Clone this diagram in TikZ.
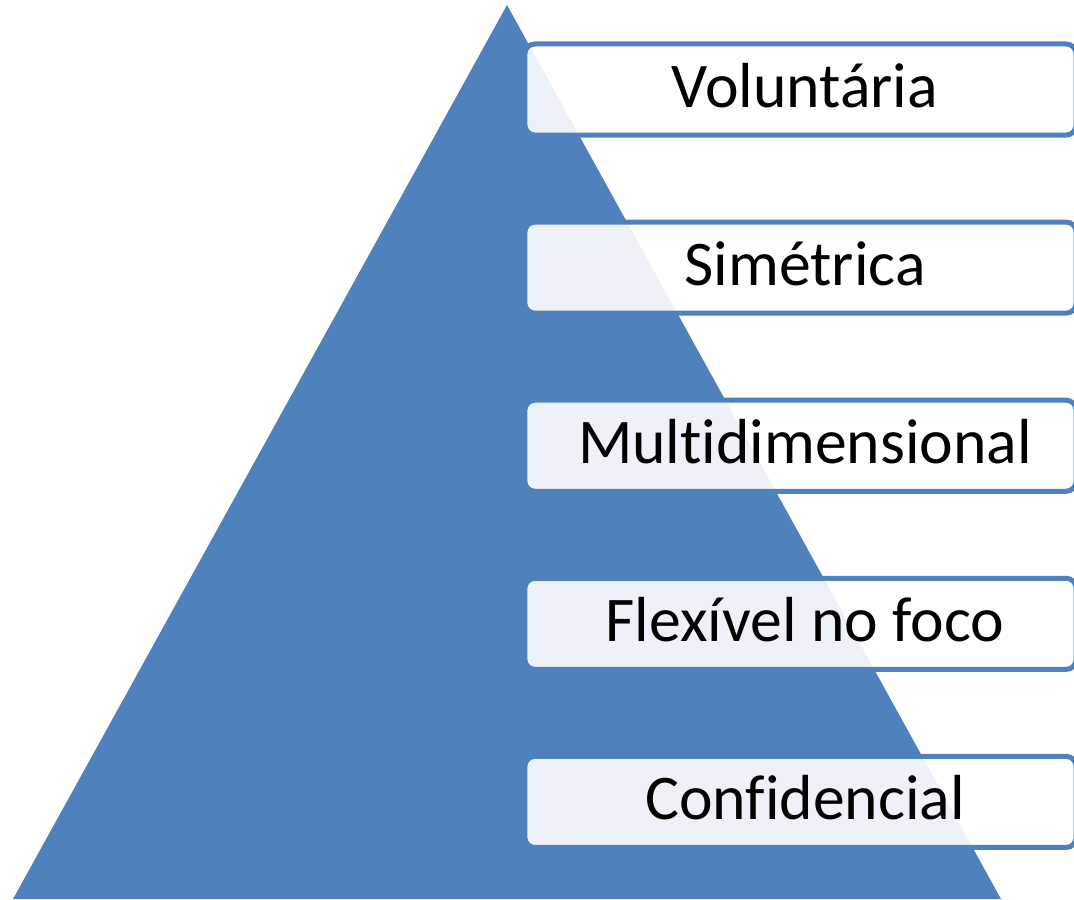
\documentclass[tikz,border=0pt]{standalone}
\usepackage{fontspec}
\setmainfont[Ligatures=NoCommon]{Carlito}
\usepackage{xcolor}
\usetikzlibrary{positioning}
\definecolor{pyrblue}{HTML}{4F81BD}

\begin{document}
\begin{tikzpicture}[x=0.01cm, y=-0.01cm,
    levelbox/.style={draw=pyrblue, line width=0.05cm, fill=white, fill opacity=0.9,
      text opacity=1, rounded corners=0.1cm, minimum width=5.51cm, minimum height=0.91cm,
      inner sep=0pt, text height=0.45cm, text depth=0.10cm,
      execute at begin node=\hspace*{0.09cm},
      font=\fontsize{18.1pt}{20pt}\selectfont},
    node distance=0.82cm]
  \useasboundingbox (0,0) rectangle (1074,899);
  \clip (0,0) rectangle (1074,899);
  % pyramid
  \fill[pyrblue] (507,5) -- (1001,899) -- (13,899) -- cycle;
  % levels
  \node[levelbox] (vol) at (800.5,89.5) {Voluntária};
  \node[levelbox, below=of vol] (sim) {Simétrica};
  \node[levelbox, below=of sim] (mul) {Multidimensional};
  \node[levelbox, below=of mul] (flx) {Flexível no foco};
  \node[levelbox, below=of flx] (con) {Confidencial};
\end{tikzpicture}
\end{document}
